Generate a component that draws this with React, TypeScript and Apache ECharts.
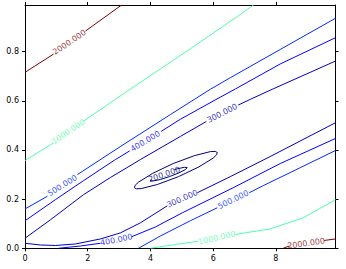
import React, { useEffect, useRef } from "react";
import * as echarts from "echarts";

type P = [number, number] | null;

const xTicks = [0, 2, 4, 6, 8];
const yTicks = [0, 0.2, 0.4, 0.6, 0.8];
const xMax = 9.9;
const yMax = 0.99;

const levels = [200, 300, 400, 500, 1000, 2000];
const levelColors = ["#000080", "#0000c0", "#0000ff", "#002aff", "#4effaa", "#800000"];

// contour polylines (data coordinates); null = gap under an inline label
const contour2000Upper: P[] = [[0, 0.716], [0.908, 0.79], null, [1.927, 0.884], [3.08, 0.99]];
const contour2000Lower: P[] = [[8.232, 0], [8.424, 0.0094], null, [9.538, 0.0319], [9.9, 0.038]];
const contour1000Upper: P[] = [[0, 0.357], [0.91, 0.429], null, [1.86, 0.517], [3.36, 0.648], [4.95, 0.784], [6.54, 0.923], [7.29, 0.99]];
const contour1000Lower: P[] = [[3.997, 0], [4.793, 0.0155], [5.525, 0.0286], null, [6.704, 0.0564], [7.818, 0.079], [8.869, 0.124], [9.9, 0.1976]];
const contour500Upper: P[] = [[0, 0.16], [0.717, 0.212], null, [1.672, 0.3], [3.041, 0.414], [4.634, 0.544], [5.908, 0.647], [6.545, 0.694], [8.137, 0.809], [9.9, 0.936]];
const contour500Lower: P[] = [[3.615, 0], [4.315, 0.05], [5.271, 0.112], [6.131, 0.165], null, [7.15, 0.226], [7.596, 0.255], [8.774, 0.328], [9.9, 0.398]];
const contour400Upper: P[] = [[0, 0.112], [0.971, 0.198], [1.863, 0.275], [2.882, 0.361], [3.34, 0.3965], null, [4.34, 0.4756], [4.952, 0.525], [6.226, 0.615], [6.704, 0.648], [8.137, 0.75], [9.9, 0.857]];
const contour400Lower: P[] = [[1.067, 0], [1.768, 0.0094], [2.404, 0.0204], null, [3.392, 0.0466], [4.156, 0.0867], [5.016, 0.1444], [6.64, 0.2466], [8.137, 0.3448], [9.9, 0.447]];
const contour300Upper: P[] = [[0, 0.041], [0.812, 0.116], [1.863, 0.218], [2.723, 0.288], [3.678, 0.361], [4.952, 0.455], [5.78, 0.516], null, [6.8, 0.583], [7.182, 0.606], [7.882, 0.647], [9.9, 0.762]];
const contour300Lower: P[] = [[0, 0.0204], [0.494, 0.0135], [0.971, 0.0115], [1.608, 0.0176], [2.404, 0.038], [3.041, 0.0626], [3.678, 0.1035], [4.538, 0.173], null, [5.494, 0.226], [6.545, 0.2916], [7.818, 0.3734], [9.9, 0.511]];
const contour200Outer: P[] = [
  [6.131, 0.3898], [6.108, 0.3804], [5.997, 0.3669], [5.545, 0.3313], [4.895, 0.2916], [4.223, 0.2597],
  [3.707, 0.2429], [3.554, 0.2421], [3.487, 0.2466], [3.51, 0.256], [3.621, 0.2695], [4.073, 0.3051],
  [4.723, 0.3448], [5.395, 0.3767], [5.911, 0.3935], [6.064, 0.3943], [6.131, 0.3898],
];
const contour200Inner: P[] = [[4.763, 0.32], [4.857, 0.3235], [5.083, 0.3297], [5.175, 0.3284], [5.108, 0.32], [4.904, 0.3067], [4.611, 0.292], [4.315, 0.28], [4.089, 0.274], [3.997, 0.275], [4.022, 0.28]];

const contourLevels = [2000, 2000, 1000, 1000, 500, 500, 400, 400, 300, 300, 200, 200];
const contourLines = [
  contour2000Upper, contour2000Lower, contour1000Upper, contour1000Lower,
  contour500Upper, contour500Lower, contour400Upper, contour400Lower,
  contour300Upper, contour300Lower, contour200Outer, contour200Inner,
];

// inline labels: level, anchor (data coords), text angle
const labelLevels = [2000, 1000, 500, 400, 300, 200, 300, 400, 500, 1000, 2000];
const labelX = [1.417, 1.385, 1.194, 3.838, 6.29, 4.443, 5.016, 2.914, 6.64, 6.115, 8.965];
const labelY = [0.838, 0.474, 0.255, 0.435, 0.549, 0.3, 0.2016, 0.034, 0.1975, 0.0421, 0.0196];
const labelAngle = [34, 34, 32, 31, 27, 19, 24, 12, 26, 13, 8];

const FONT = "DejaVu Sans";

function colorOf(level: number) {
  return levelColors[levels.indexOf(level)];
}

function splitSegments(pts: P[]): [number, number][][] {
  const segs: [number, number][][] = [];
  let cur: [number, number][] = [];
  for (const p of pts) {
    if (p === null) {
      if (cur.length) segs.push(cur);
      cur = [];
    } else cur.push(p);
  }
  if (cur.length) segs.push(cur);
  return segs;
}

export default function App() {
  const ref = useRef<HTMLDivElement>(null);
  useEffect(() => {
    if (!ref.current) return;
    const chart = echarts.init(ref.current, undefined, { renderer: "svg" });
    const series: any[] = [];
    contourLines.forEach((line, i) => {
      const color = colorOf(contourLevels[i]);
      splitSegments(line).forEach((seg) => {
        series.push({
          type: "line",
          data: seg,
          showSymbol: false,
          symbol: "none",
          smooth: false,
          lineStyle: { color, width: 1 },
          itemStyle: { color },
          silent: true,
          z: 2,
        });
      });
    });
    series.push({
      type: "scatter",
      symbolSize: 1,
      itemStyle: { color: "transparent" },
      silent: true,
      z: 3,
      data: labelLevels.map((lv, i) => ({
        value: [labelX[i], labelY[i]],
        label: {
          show: true,
          position: "inside",
          formatter: lv.toFixed(3),
          rotate: labelAngle[i],
          color: colorOf(lv),
          fontFamily: FONT,
          fontSize: 8,
        },
      })),
    });

    const axisCommon = {
      type: "value" as const,
      axisLine: { show: true, onZero: false, lineStyle: { color: "#000", width: 1 } },
      splitLine: { show: false },
    };

    chart.setOption({
      animation: false,
      backgroundColor: "#fff",
      grid: { left: 25, top: 5, width: 310.5, height: 243.3, containLabel: false },
      xAxis: [
        {
          ...axisCommon,
          position: "bottom",
          min: 0,
          max: xMax,
          interval: 2,
          axisTick: { show: true, inside: false, length: 3, customValues: xTicks, lineStyle: { color: "#000" } },
          axisLabel: {
            show: true,
            customValues: xTicks,
            margin: 6,
            color: "#000",
            fontFamily: FONT,
            fontSize: 8,
            formatter: (v: number) => String(v),
          },
        },
        {
          ...axisCommon,
          position: "top",
          min: 0,
          max: xMax,
          interval: 2,
          axisTick: { show: true, inside: false, length: 3, customValues: xTicks, lineStyle: { color: "#000" } },
          axisLabel: { show: false },
        },
      ],
      yAxis: [
        {
          ...axisCommon,
          position: "left",
          min: 0,
          max: yMax,
          interval: 0.2,
          axisTick: { show: true, inside: false, length: 3, customValues: yTicks, lineStyle: { color: "#000" } },
          axisLabel: {
            show: true,
            customValues: yTicks,
            margin: 6,
            color: "#000",
            fontFamily: FONT,
            fontSize: 8,
            formatter: (v: number) => v.toFixed(1),
          },
        },
        {
          ...axisCommon,
          position: "right",
          min: 0,
          max: yMax,
          interval: 0.2,
          axisTick: { show: true, inside: false, length: 3, customValues: yTicks, lineStyle: { color: "#000" } },
          axisLabel: { show: false },
        },
      ],
      series,
    });
    return () => chart.dispose();
  }, []);
  return (
    <div
      ref={ref}
      style={{ position: "fixed", left: 0, top: 0, width: 346, height: 269, background: "#fff" }}
    />
  );
}
